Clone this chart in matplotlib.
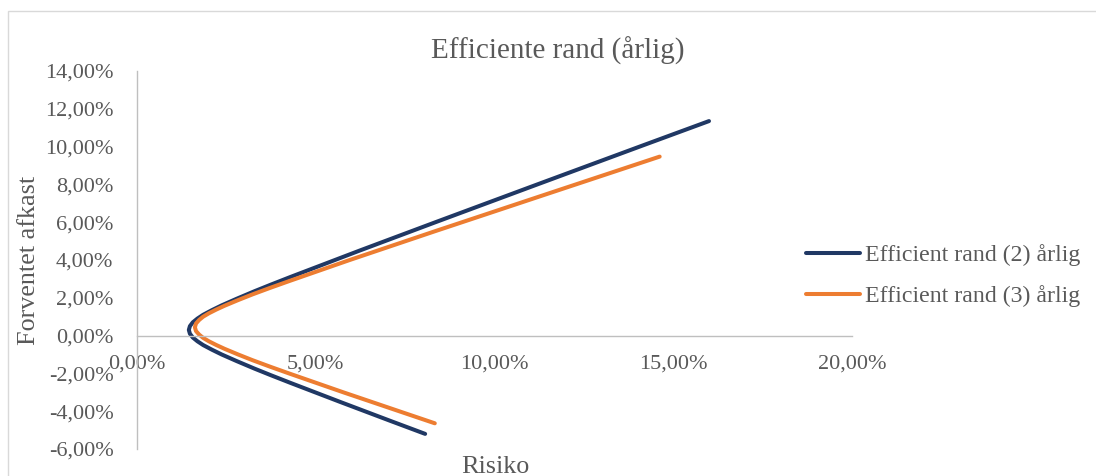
import matplotlib
matplotlib.use("Agg")
import matplotlib.pyplot as plt
from matplotlib.patches import Rectangle
from matplotlib.ticker import FuncFormatter

# efficient frontier (2) - risk (%) and expected return (%)
risk_2 = [8.06, 7.07, 5.67, 4.29, 3.75, 3.29, 2.79, 2.37, 2.10, 1.85, 1.69, 1.56, 1.48,
          1.45, 1.48, 1.56, 1.69, 1.85, 2.10, 2.37, 2.79, 3.29, 3.75, 4.29, 6.23, 8.35,
          11.20, 14.06, 16.00]
ret_2 = [-5.20, -4.50, -3.50, -2.50, -2.10, -1.75, -1.35, -1.00, -0.75, -0.50, -0.30, -0.10, 0.10,
         0.30, 0.50, 0.70, 0.90, 1.10, 1.35, 1.60, 1.95, 2.35, 2.70, 3.10, 4.50, 6.00,
         8.00, 10.00, 11.35]

# efficient frontier (3)
risk_3 = [8.33, 7.33, 5.77, 4.25, 3.73, 3.23, 2.83, 2.45, 2.22, 2.01, 1.85, 1.74, 1.65,
          1.62, 1.65, 1.74, 1.85, 2.01, 2.22, 2.45, 2.83, 3.23, 3.73, 4.25, 5.95, 8.30,
          11.48, 14.62]
ret_3 = [-4.64, -4.00, -3.00, -2.00, -1.65, -1.30, -1.00, -0.70, -0.50, -0.30, -0.12, 0.05, 0.24,
         0.44, 0.64, 0.83, 1.00, 1.18, 1.38, 1.58, 1.88, 2.18, 2.53, 2.88, 4.00, 5.50,
         7.50, 9.47]

xticks = [0, 5, 10, 15, 20]
yticks = [-6, -4, -2, 0, 2, 4, 6, 8, 10, 12, 14]

navy = "#203864"
orange = "#ED7D31"
txt = "#595959"
axis_col = "#BFBFBF"

plt.rcParams["font.family"] = ["Liberation Serif", "DejaVu Serif"]

W, H = 1096, 476
fig = plt.figure(figsize=(W / 100, H / 100), dpi=100)
fig.patch.set_facecolor("white")

# chart area border
fig.patches.append(Rectangle((8 / W, -0.2), 1.2, (H - 11) / H + 0.2, transform=fig.transFigure,
                             fill=False, edgecolor="#D9D9D9", linewidth=1.0))

ax = fig.add_axes([137 / W, (H - 449) / H, 715 / W, 378 / H])
ax.set_facecolor("none")

ax.plot(risk_2, ret_2, color=navy, lw=2.9, solid_capstyle="round", solid_joinstyle="round",
        label="Efficient rand (2) årlig")
ax.plot(risk_3, ret_3, color=orange, lw=2.9, solid_capstyle="round", solid_joinstyle="round",
        label="Efficient rand (3) årlig")

ax.set_xlim(0, 20)
ax.set_ylim(-6, 14)
ax.set_xticks(xticks)
ax.set_yticks(yticks)
pct = FuncFormatter(lambda v, p: f"{v:.2f}%".replace(".", ","))
ax.xaxis.set_major_formatter(pct)
ax.yaxis.set_major_formatter(pct)

for s in ["top", "right"]:
    ax.spines[s].set_visible(False)
ax.spines["bottom"].set_position(("data", 0))
ax.spines["bottom"].set_color(axis_col)
ax.spines["left"].set_color(axis_col)
ax.spines["bottom"].set_linewidth(1.0)
ax.spines["left"].set_linewidth(1.0)

ax.tick_params(axis="x", length=0, pad=14, labelsize=16, labelcolor=txt)
ax.tick_params(axis="y", length=0, pad=17, labelsize=16, labelcolor=txt)

fig.text(558 / W, 1 - 59 / H, "Efficiente rand (årlig)", ha="center", va="baseline",
         fontsize=21, color=txt)
fig.text(29 / W, 1 - 260 / H, "Forventet afkast", ha="center", va="center", rotation=90,
         fontsize=18.8, color=txt)
fig.text(495 / W, 1 - 473 / H, "Risiko", ha="center", va="baseline", fontsize=18.8, color=txt)

leg = ax.legend(loc="center left", bbox_to_anchor=(806 / W, 1 - 275.5 / H),
                bbox_transform=fig.transFigure, frameon=False, fontsize=17.2,
                handlelength=2.26, handletextpad=0.2, labelspacing=0.8,
                borderpad=0, borderaxespad=0)
for t in leg.get_texts():
    t.set_color(txt)

fig.savefig("out.png", dpi=100)
